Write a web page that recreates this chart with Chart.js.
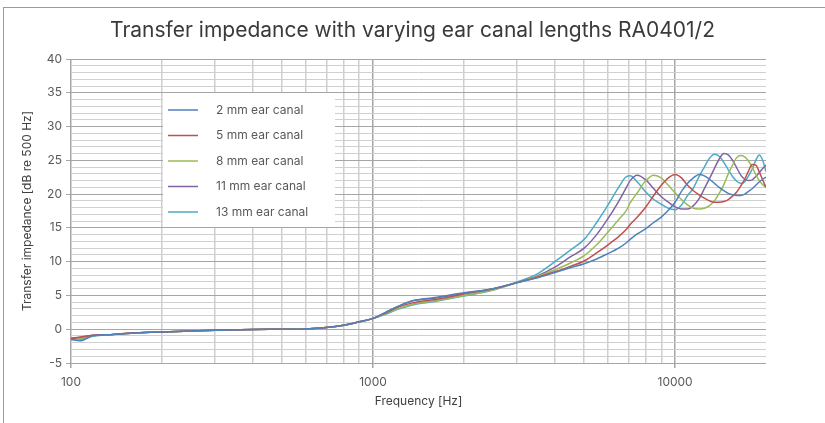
<!DOCTYPE html>
<html>
<head>
<meta charset="utf-8">
<script src="https://cdn.jsdelivr.net/npm/chart.js@4.4.1/dist/chart.umd.min.js"></script>
<style>
  html, body { margin: 0; padding: 0; background: #ffffff; }
  #wrap { position: relative; width: 825px; height: 423px; overflow: hidden; }
  #c { position: absolute; left: 0; top: 0; }
  #frame { position: absolute; left: 3px; top: 7px; width: 900px; height: 500px;
           border-top: 1px solid #9a9a9a; border-left: 1px solid #9a9a9a; pointer-events: none; }
</style>
</head>
<body>
<div id="wrap">
  <canvas id="c" width="825" height="423"></canvas>
  <div id="frame"></div>
</div>
<script>
// ---- Data ----
const chartTitle = "Transfer impedance with varying ear canal lengths RA0401/2";
const xAxisTitle = "Frequency [Hz]";
const yAxisTitle = "Transfer impedance [dB re 500 Hz]";

const seriesLabels = ["2 mm ear canal", "5 mm ear canal", "8 mm ear canal", "11 mm ear canal", "13 mm ear canal"];
const seriesColors = ["#4f81bd", "#c0504d", "#9bbb59", "#8064a2", "#4bacc6"];

const freqs = [100,107,118,135,153,175,200,250,300,400,500,600,700,800,900,1000,
  1100,1200,1350,1600,2000,2500,3000,3500,4000,4500,5000,5500,6000,6500,6900,7100,7500,8000,8500,9000,9500,
  10000,10500,11000,11500,12000,12500,13000,13500,14000,14500,15000,15500,16000,16500,17000,17500,18000,18500,19000,19500,20000];

const canal2mm = [-1.5,-1.7,-1.0,-0.8,-0.65,-0.5,-0.4,-0.25,-0.15,-0.05,0,0.05,0.25,0.6,1.1,1.6,
  2.5,3.3,4.2,4.7,5.4,6.0,6.9,7.6,8.4,9.1,9.7,10.4,11.2,12.0,12.8,13.3,14.1,14.9,15.8,16.6,17.6,
  18.8,20.4,21.6,22.4,22.9,22.7,22.2,21.6,21.0,20.5,20.1,19.9,19.8,19.8,20.0,20.4,20.8,21.3,21.8,22.2,22.5];
const canal5mm = [-1.4,-1.2,-0.9,-0.8,-0.6,-0.5,-0.4,-0.25,-0.15,-0.05,0,0.05,0.25,0.6,1.1,1.6,
  2.4,3.2,3.9,4.4,5.2,6.0,6.9,7.7,8.5,9.3,10.1,11.3,12.5,13.7,14.8,15.5,16.6,18.1,19.8,21.3,22.4,
  22.9,22.4,21.3,20.5,19.9,19.4,19.0,18.8,18.8,18.9,19.2,19.7,20.3,21.2,22.2,23.4,24.4,24.3,23.3,22.1,21.0];
const canal8mm = [-1.6,-1.4,-1.0,-0.8,-0.65,-0.5,-0.4,-0.25,-0.15,-0.05,0,0.05,0.25,0.6,1.1,1.6,
  2.3,3.0,3.7,4.2,5.0,5.8,6.9,7.8,8.8,9.8,10.9,12.5,14.4,16.2,17.6,18.7,20.2,22.0,22.8,22.4,21.3,
  20.2,19.2,18.4,17.9,17.8,17.9,18.3,19.0,20.1,21.4,23.0,24.3,25.4,25.7,25.5,24.9,24.0,22.9,22.0,21.4,21.0];
const canal11mm = [-1.3,-1.2,-0.9,-0.8,-0.65,-0.5,-0.4,-0.25,-0.15,-0.05,0,0.05,0.25,0.6,1.1,1.6,
  2.5,3.3,4.2,4.6,5.3,6.0,6.9,7.9,9.2,10.7,12.0,14.0,16.4,18.9,21.0,22.0,22.8,22.1,20.8,19.6,18.8,
  18.1,17.8,17.8,18.3,19.3,20.8,22.3,23.8,25.2,26.0,25.8,25.0,23.9,22.8,22.2,22.0,22.1,22.6,23.2,23.8,24.3];
const canal13mm = [-1.5,-1.5,-1.0,-0.8,-0.65,-0.5,-0.4,-0.25,-0.15,-0.05,0,0.05,0.25,0.6,1.1,1.6,
  2.2,2.9,3.6,4.1,4.9,5.8,7.0,8.2,10.0,11.7,13.3,15.8,18.4,21.0,22.6,22.7,21.8,20.3,19.2,18.5,17.9,
  17.7,18.4,19.8,20.9,22.6,24.0,25.3,25.9,25.6,24.7,23.6,22.6,21.9,21.6,21.8,22.7,23.7,25.0,25.8,25.0,23.3];

const seriesValues = [canal2mm, canal5mm, canal8mm, canal11mm, canal13mm];

const xTickValues = [100,200,300,400,500,600,700,800,900,1000,2000,3000,4000,5000,6000,7000,8000,9000,10000];
const xTickLabels = {100: "100", 1000: "1000", 10000: "10000"};
const yMin = -5, yMax = 40, yLabelStep = 5;

// ---- Build chart ----
const FONT = "Inter, 'Open Sans', 'DejaVu Sans', sans-serif";

const datasets = seriesLabels.map((lab, i) => ({
  label: lab,
  data: freqs.map((f, j) => ({ x: f, y: seriesValues[i][j] })),
  borderColor: seriesColors[i],
  backgroundColor: seriesColors[i],
  borderWidth: 1.5,
  pointRadius: 0,
  cubicInterpolationMode: 'monotone',
  fill: false
}));

const legendPlugin = {
  id: 'insideLegend',
  afterDatasetsDraw(chart) {
    const ctx = chart.ctx;
    const box = { x: 163, y: 93, w: 172, h: 134 };
    ctx.save();
    ctx.fillStyle = '#ffffff';
    ctx.fillRect(box.x, box.y, box.w, box.h);
    ctx.font = "12px " + FONT;
    ctx.textBaseline = 'middle';
    ctx.textAlign = 'left';
    const rows = [110, 135.5, 161, 186.5, 212];
    chart.data.datasets.forEach((ds, i) => {
      const y = rows[i];
      ctx.strokeStyle = ds.borderColor;
      ctx.lineWidth = 1.5;
      ctx.beginPath();
      ctx.moveTo(168, y);
      ctx.lineTo(198, y);
      ctx.stroke();
      ctx.fillStyle = '#595959';
      ctx.fillText(ds.label, 216, y);
    });
    ctx.restore();
  }
};

new Chart(document.getElementById('c'), {
  type: 'line',
  data: { datasets },
  plugins: [legendPlugin],
  options: {
    responsive: false,
    animation: false,
    layout: { padding: 0 },
    plugins: {
      legend: { display: false },
      tooltip: { enabled: false },
      title: {
        display: true,
        text: chartTitle,
        color: '#3a3a3a',
        font: { family: FONT, size: 21, weight: 'normal' },
        padding: { top: 18, bottom: 15.8 }
      }
    },
    scales: {
      x: {
        type: 'logarithmic',
        min: 100,
        max: 20000,
        afterBuildTicks: (scale) => { scale.ticks = xTickValues.map(v => ({ value: v })); },
        afterFit: (scale) => { scale.height = 60; },
        ticks: {
          autoSkip: false,
          maxRotation: 0,
          padding: 7,
          color: '#595959',
          font: { family: FONT, size: 12 },
          callback: (v) => (xTickLabels[v] !== undefined ? xTickLabels[v] : '')
        },
        grid: {
          color: (ctx) => (ctx.tick && xTickLabels[ctx.tick.value] !== undefined ? '#a6a6a6' : '#cfcfcf'),
          lineWidth: 1.5,
          tickLength: 5,
          tickColor: (ctx) => (ctx.tick && xTickLabels[ctx.tick.value] !== undefined ? '#a6a6a6' : 'rgba(0,0,0,0)')
        },
        border: { display: false },
        title: {
          display: true,
          text: xAxisTitle,
          color: '#404040',
          font: { family: FONT, size: 12 },
          padding: { top: 0, bottom: 14 }
        }
      },
      y: {
        type: 'linear',
        min: yMin,
        max: yMax,
        afterFit: (scale) => { scale.width = 71; },
        ticks: {
          stepSize: 1,
          autoSkip: false,
          padding: 4,
          color: '#595959',
          font: { family: FONT, size: 12 },
          callback: (v) => (v % yLabelStep === 0 ? String(v) : '')
        },
        grid: {
          color: (ctx) => (ctx.tick && ctx.tick.value % yLabelStep === 0 ? '#a6a6a6' : '#d0d0d0'),
          lineWidth: 1,
          tickLength: 5,
          tickColor: (ctx) => (ctx.tick && ctx.tick.value % yLabelStep === 0 ? '#a6a6a6' : 'rgba(0,0,0,0)')
        },
        border: { display: false },
        title: {
          display: true,
          text: yAxisTitle,
          color: '#404040',
          font: { family: FONT, size: 12 },
          padding: { top: 20, bottom: 0 }
        }
      },
      rightSpacer: {
        type: 'linear',
        position: 'right',
        display: true,
        min: yMin,
        max: yMax,
        afterFit: (scale) => { scale.width = 59; },
        ticks: { display: false },
        grid: { display: false, drawTicks: false },
        border: { display: false }
      }
    }
  }
});
</script>
</body>
</html>
